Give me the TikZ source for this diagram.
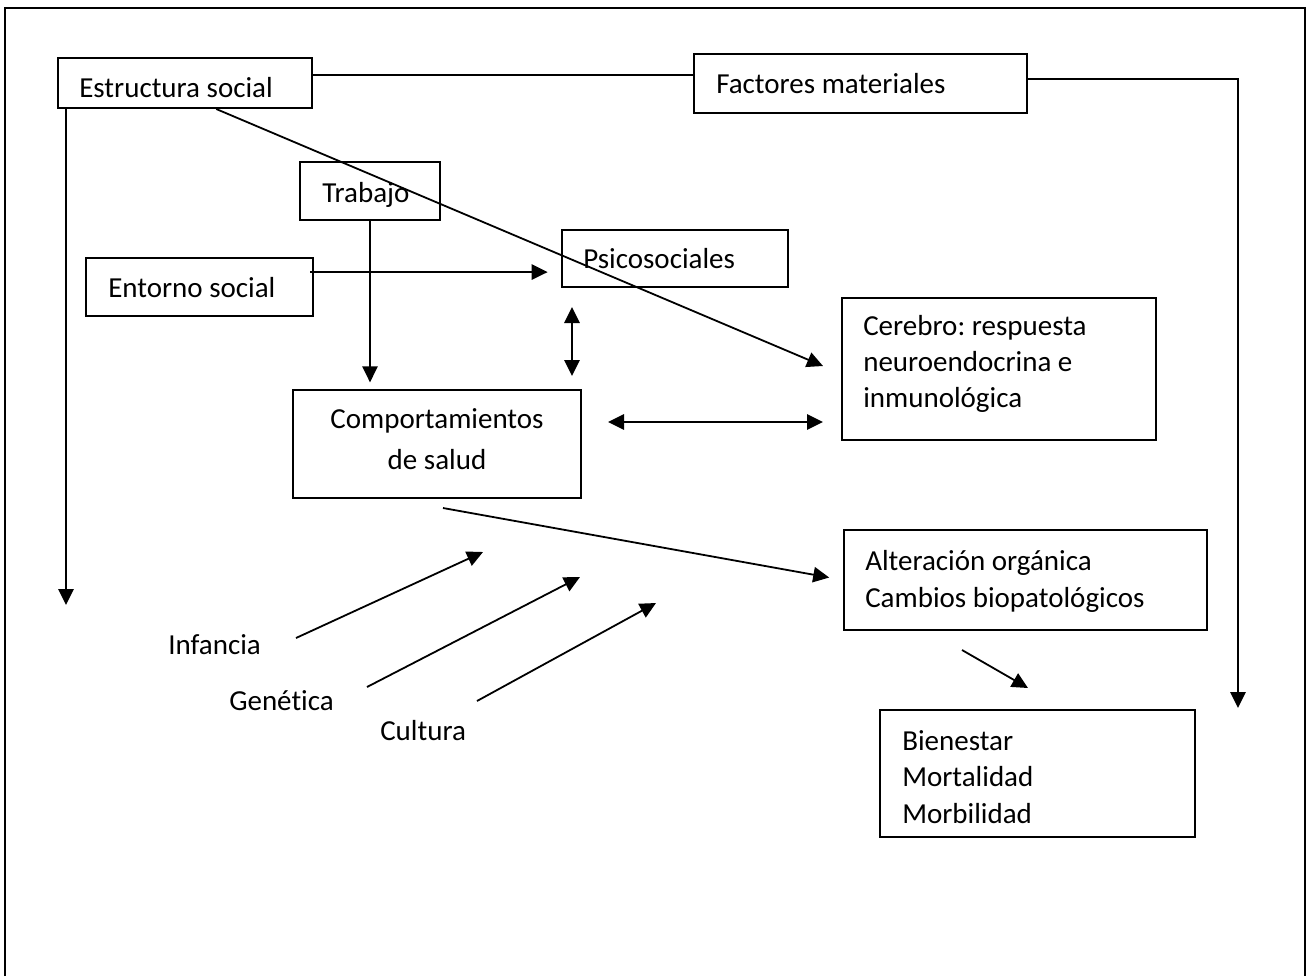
\documentclass[tikz,border=0pt]{standalone}
\usepackage{fontspec}
\setmainfont{Carlito}[Ligatures=CommonOff]
\usetikzlibrary{arrows.meta,fit,calc}
\frenchspacing
\begin{document}
\begin{tikzpicture}[x=0.75pt,y=-0.75pt,
  box/.style={draw, line width=1.5pt, inner sep=0pt},
  lbl/.style={anchor=base west, inner sep=0pt, font=\fontsize{21.75}{27}\selectfont},
  lblc/.style={lbl, anchor=base},
  link/.style={line width=1.35pt},
  tip/.style={-{Triangle[length=12pt,width=11.5pt]}},
  arr/.style={link, tip},
  arrtwo/.style={link, {Triangle[length=12pt,width=11.5pt]}-{Triangle[length=12pt,width=11.5pt]}}]
\useasboundingbox (0,0) rectangle (1309,976);

% outer frame, open at the bottom
\draw[line width=1.6pt] (5,976) -- (5,8) -- (1305,8) -- (1305,976);

% boxes
\node[box, fit={(58,58) (312,108)}] (estr) {};
\node[box, fit={(694,54) (1027,113)}] (fact) {};
\node[box, fit={(300,162) (440,220)}] (trab) {};
\node[box, fit={(86,258) (313,316)}] (ent) {};
\node[box, fit={(562,230) (788,287)}] (psi) {};
\node[box, fit={(842,298) (1156,440)}] (cer) {};
\node[box, fit={(293,390) (581,498)}] (comp) {};
\node[box, fit={(844,530) (1207,630)}] (alt) {};
\node[box, fit={(880,710) (1195,837)}] (bien) {};

% texts
\node[lbl] (testr) at (79,97) {Estructura social};
\node[lbl] (tfact) at (716,93) {Factores materiales};
\node[lbl] (ttrab) at (322,202) {Trabajo};
\node[lbl] (tent) at (108,297) {Entorno social};
\node[lbl] (tpsi) at (583,268) {Psicosociales};
\node[lbl] (tcer1) at (863,335) {Cerebro: respuesta};
\node[lbl] (tcer2) at (863,371) {neuroendocrina e};
\node[lbl] (tcer3) at (863,407) {inmunológica};
\node[lblc] (tcomp1) at (437,428) {Comportamientos};
\node[lblc] (tcomp2) at (437,469) {de salud};
\node[lbl] (talt1) at (865,570) {Alteración orgánica};
\node[lbl] (talt2) at (865,607) {Cambios biopatológicos};
\node[lbl] (tbien1) at (902,750) {Bienestar};
\node[lbl] (tbien2) at (902,786) {Mortalidad};
\node[lbl] (tbien3) at (902,823) {Morbilidad};
\node[lbl] (inf) at (168,654) {Infancia};
\node[lbl] (gen) at (229,710) {Genética};
\node[lbl] (cul) at (380,740) {Cultura};

% free ends of the connectors
\coordinate (lEnd) at (66,605);
\coordinate (rEnd) at (1238,708);
\coordinate (diagEnd) at (823,366);
\coordinate (vTop) at (572,307);
\coordinate (vBot) at (572,376);
\coordinate (compOut) at (443,508);
\coordinate (infA) at (296,638);
\coordinate (infB) at (483,552);
\coordinate (genA) at (367,687);
\coordinate (genB) at (580,577);
\coordinate (culA) at (477,701);
\coordinate (culB) at (656,603);
\coordinate (altOut) at (962,650);
\coordinate (bienIn) at (1028,688);

% connectors
\draw[link] ([yshift=6pt]estr.east) -- ([yshift=6pt]estr.east -| fact.west);
\draw[arr] ([yshift=3.4pt]fact.east) -| (rEnd);
\draw[arr] (estr.south west -| lEnd) -- (lEnd);
\draw[arr] ($(estr.south west)!0.622!(estr.south east)$) -- (diagEnd);
\draw[arr, shorten >=5pt] (trab.south) -- (trab.south |- comp.north);
\draw[arr, shorten >=10pt] ([yshift=11.2pt,xshift=-3pt]ent.east) -- ([yshift=11.2pt]ent.east -| psi.west);
\draw[arrtwo] (vTop) -- (vBot);
\draw[arrtwo, shorten <=19.5pt, shorten >=13.5pt] ([yshift=16.5pt]comp.east) -- ([yshift=16.5pt]comp.east -| cer.west);
\draw[arr, shorten >=10.5pt] (compOut) -- (alt.west);
\draw[arr] (infA) -- (infB);
\draw[arr] (genA) -- (genB);
\draw[arr] (culA) -- (culB);
\draw[arr] (altOut) -- (bienIn);
\end{tikzpicture}
\end{document}
